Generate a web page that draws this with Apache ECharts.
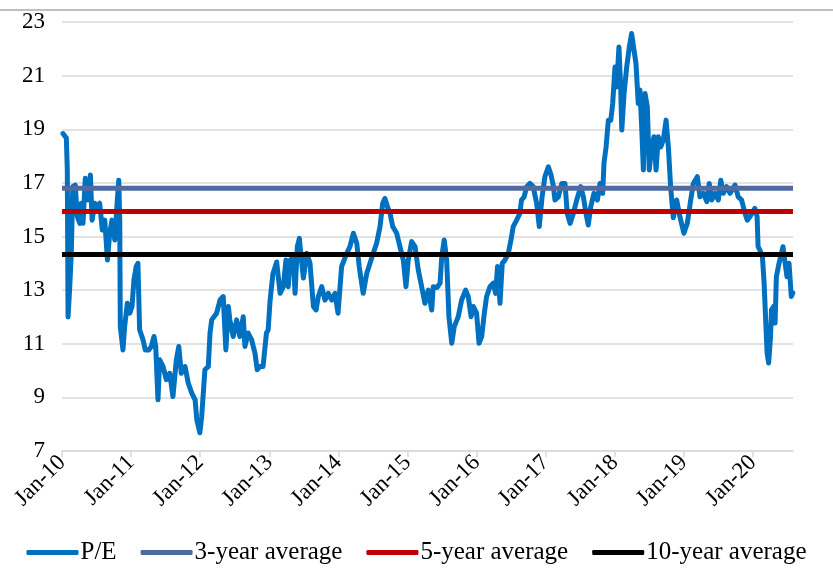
<!DOCTYPE html>
<html><head><meta charset="utf-8">
<script src="https://cdn.jsdelivr.net/npm/echarts@6/dist/echarts.min.js"></script>
<style>html,body{margin:0;padding:0;background:#fff}#c{width:833px;height:568px}</style>
</head><body><div id="c"></div>
<script>
const peDates = [
'2010-01-06','2010-01-24','2010-01-29','2010-02-02','2010-02-11','2010-02-19','2010-02-27','2010-03-12','2010-03-23','2010-04-05',
'2010-04-13','2010-04-22','2010-05-04','2010-05-18','2010-05-31','2010-06-09','2010-06-23','2010-07-07','2010-07-19','2010-08-02',
'2010-08-15','2010-08-29','2010-09-10','2010-09-22','2010-10-07','2010-10-19','2010-10-28','2010-11-02','2010-11-05','2010-11-19',
'2010-11-28','2010-12-12','2010-12-25','2011-01-06','2011-01-16','2011-01-28','2011-02-06','2011-02-15','2011-03-05','2011-03-17',
'2011-04-04','2011-04-18','2011-05-02','2011-05-11','2011-05-23','2011-06-01','2011-06-19','2011-07-06','2011-07-24','2011-08-10',
'2011-08-28','2011-09-10','2011-09-23','2011-10-13','2011-10-30','2011-11-17','2011-12-05','2011-12-14','2011-12-30','2012-01-09',
'2012-01-26','2012-02-13','2012-02-22','2012-03-02','2012-03-28','2012-04-15','2012-05-02','2012-05-16','2012-05-29','2012-06-06',
'2012-06-24','2012-07-12','2012-07-29','2012-08-16','2012-08-25','2012-09-11','2012-09-29','2012-10-17','2012-10-29','2012-11-12',
'2012-11-29','2012-12-17','2012-12-26','2013-01-05','2013-01-20','2013-02-09','2013-02-17','2013-02-27','2013-03-16','2013-03-30',
'2013-04-11','2013-04-21','2013-05-08','2013-05-17','2013-05-29','2013-06-09','2013-06-16','2013-06-30','2013-07-18','2013-08-04',
'2013-08-22','2013-09-05','2013-09-17','2013-10-05','2013-10-22','2013-11-09','2013-11-27','2013-12-14','2013-12-30','2014-01-18',
'2014-02-14','2014-03-03','2014-03-21','2014-04-08','2014-04-21','2014-05-12','2014-05-31','2014-06-17','2014-07-04','2014-07-22',
'2014-08-09','2014-08-23','2014-09-04','2014-09-17','2014-10-01','2014-10-15','2014-11-05','2014-11-22','2014-12-10','2014-12-24',
'2015-01-05','2015-01-23','2015-02-10','2015-02-27','2015-03-17','2015-04-03','2015-04-21','2015-05-09','2015-05-17','2015-06-06',
'2015-06-22','2015-07-01','2015-07-14','2015-07-27','2015-08-08','2015-08-23','2015-09-05','2015-09-26','2015-10-14','2015-11-04',
'2015-11-18','2015-12-03','2015-12-15','2016-01-01','2016-01-14','2016-01-28','2016-02-11','2016-02-23','2016-03-12','2016-03-29',
'2016-04-11','2016-04-21','2016-05-04','2016-05-16','2016-05-30','2016-06-17','2016-07-01','2016-07-13','2016-07-31','2016-08-17',
'2016-08-26','2016-09-09','2016-09-22','2016-10-09','2016-10-27','2016-11-14','2016-11-28','2016-12-13','2016-12-28','2017-01-15',
'2017-01-29','2017-02-10','2017-02-19','2017-03-09','2017-03-27','2017-04-13','2017-04-25','2017-05-10','2017-05-27','2017-06-14',
'2017-07-05','2017-07-19','2017-08-02','2017-08-14','2017-08-27','2017-09-13','2017-10-01','2017-10-15','2017-10-29','2017-11-05',
'2017-11-16','2017-11-28','2017-12-11','2017-12-21','2018-01-02','2018-01-11','2018-01-23','2018-02-01','2018-02-07','2018-02-19',
'2018-03-05','2018-03-19','2018-03-31','2018-04-09','2018-04-23','2018-05-05','2018-05-14','2018-05-23','2018-06-01','2018-06-10',
'2018-06-22','2018-07-02','2018-07-15','2018-07-27','2018-08-07','2018-08-19','2018-09-01','2018-09-14','2018-09-29','2018-10-11',
'2018-10-23','2018-11-06','2018-11-24','2018-12-11','2019-01-01','2019-01-19','2019-02-06','2019-02-20','2019-03-13','2019-03-27',
'2019-04-14','2019-05-02','2019-05-15','2019-05-28','2019-06-14','2019-07-02','2019-07-15','2019-07-28','2019-08-15','2019-09-02',
'2019-09-28','2019-10-15','2019-11-02','2019-11-20','2019-12-02','2019-12-16','2020-01-11','2020-01-23','2020-01-28','2020-02-06',
'2020-02-20','2020-02-29','2020-03-09','2020-03-16','2020-03-24','2020-04-03','2020-04-08','2020-04-20','2020-04-27','2020-05-04',
'2020-05-18','2020-06-08','2020-06-17','2020-06-29','2020-07-10','2020-07-22','2020-07-30'
];
const peValues = [
18.84,18.67,17.48,12.0,13.13,14.37,16.86,16.92,15.74,15.49,
16.24,15.49,17.17,16.36,17.29,15.61,16.24,16.11,16.24,15.24,
15.61,14.12,15.12,15.61,14.87,16.24,17.10,15.61,11.64,10.77,
11.64,12.51,12.14,12.39,13.38,13.88,14.0,11.52,11.15,10.77,
10.77,10.9,11.27,10.9,8.91,10.4,10.15,9.66,9.9,9.03,
10.4,10.9,9.9,10.15,9.53,9.17,8.91,8.17,7.68,8.29,
10.03,10.15,11.4,11.89,12.14,12.63,12.76,10.77,12.39,11.89,
11.27,11.89,11.27,12.01,10.9,11.4,11.15,10.65,10.03,10.15,
10.15,11.4,11.52,12.6,13.6,14.05,14.12,12.88,13.13,14.12,
13.13,14.12,14.25,12.88,14.62,14.93,14.37,13.45,14.37,14.0,
12.39,12.26,12.76,13.13,12.63,12.88,12.63,12.88,12.14,13.88,
14.37,14.62,15.12,14.75,13.88,12.88,13.63,14.0,14.37,14.75,
15.37,16.24,16.42,16.11,15.86,15.37,15.12,14.62,14.12,13.13,
14.12,14.81,14.62,13.75,13.13,12.51,13.0,12.26,13.13,13.1,
13.26,14.25,14.87,14.12,12.01,11.02,11.64,12.01,12.63,13.0,
12.76,12.01,12.39,12.14,11.02,11.27,12.14,12.76,13.13,13.26,
12.88,13.88,12.51,14.0,14.12,14.37,14.87,15.37,15.61,15.86,
16.36,16.48,16.85,16.98,16.86,16.24,15.37,16.48,17.23,17.6,
17.3,16.9,16.36,16.48,16.98,16.98,15.86,15.49,15.86,16.36,
16.86,16.48,15.86,15.43,16.11,16.61,16.36,16.98,16.61,17.73,
18.34,19.34,19.34,19.96,21.32,20.58,22.07,20.58,18.97,20.33,
21.32,22.07,22.57,22.6,21.45,19.96,20.46,19.09,17.48,20.33,
19.83,17.48,18.34,18.72,17.48,18.72,18.34,18.59,19.34,18.34,
16.86,15.7,16.36,15.74,15.12,15.49,16.36,16.98,17.23,16.48,
16.61,16.3,16.98,16.36,16.61,16.36,17.1,16.61,16.86,16.61,
16.92,16.48,16.36,15.86,15.61,15.74,16.05,15.74,14.62,14.5,
14.25,13.26,11.77,10.65,10.28,11.27,12.26,12.39,11.77,13.5,
14.0,14.62,14.12,13.5,14.0,12.76,12.9
];
const avgNames = ['3-year average', '5-year average', '10-year average'];
const avgValues = [16.8, 15.93, 14.33];
const axisStart = '2010-01-01';
const axisEnd = '2020-07-31';
const tickYears = [2010, 2011, 2012, 2013, 2014, 2015, 2016, 2017, 2018, 2019, 2020];
const yMin = 7, yMax = 23, yStep = 2;

function toDec(s) {
  const p = s.split('-').map(Number);
  const a = Date.UTC(p[0], 0, 1), b = Date.UTC(p[0] + 1, 0, 1);
  return p[0] + (Date.UTC(p[0], p[1] - 1, p[2]) - a) / (b - a);
}
const FONT = 'Liberation Serif, Times New Roman, serif';
const colors = ['#0070C0', '#4F6B9F', '#C00000', '#000000'];

const series = [{
  name: 'P/E', type: 'line', showSymbol: false, symbol: 'none',
  data: peDates.map((d, i) => [toDec(d), peValues[i]]),
  lineStyle: { color: colors[0], width: 5, join: 'round', cap: 'round' },
  itemStyle: { color: colors[0] }
}];
avgNames.forEach((n, i) => {
  series.push({
    name: n, type: 'line', showSymbol: false, symbol: 'none',
    data: [[toDec(axisStart), avgValues[i]], [toDec(axisEnd), avgValues[i]]],
    lineStyle: { color: colors[i + 1], width: 5 },
    itemStyle: { color: colors[i + 1] }
  });
});

const chart = echarts.init(document.getElementById('c'), null, { renderer: 'canvas' });
chart.setOption({
  animation: false,
  backgroundColor: '#fff',
  grid: { left: 62, right: 40, top: 22, bottom: 117 },
  graphic: [{
    type: 'line', shape: { x1: 0, y1: 10, x2: 833, y2: 10 },
    style: { stroke: '#bfbfbf', lineWidth: 2 }, silent: true
  }],
  legend: {
    data: ['P/E'].concat(avgNames),
    left: 'center', top: 535,
    icon: 'roundRect', itemWidth: 52, itemHeight: 5, itemGap: 24,
    textStyle: { fontFamily: FONT, fontSize: 25, color: '#000', padding: [0, 0, 0, -3] }
  },
  xAxis: {
    type: 'value', min: toDec(axisStart), max: toDec(axisEnd), interval: 1,
    axisLine: { show: true, lineStyle: { color: '#d9d9d9', width: 1.5 } },
    axisTick: { show: true, customValues: tickYears, length: 6, lineStyle: { color: '#d9d9d9', width: 1.5 } },
    axisLabel: {
      customValues: tickYears, rotate: 45, margin: 8,
      fontFamily: FONT, fontSize: 23, color: '#000',
      formatter: v => Math.abs(v - Math.round(v)) < 1e-6 ? 'Jan-' + String(Math.round(v)).slice(2) : ''
    },
    splitLine: { show: false }
  },
  yAxis: {
    type: 'value', min: yMin, max: yMax, interval: yStep,
    axisLine: { show: false }, axisTick: { show: false },
    axisLabel: { fontFamily: FONT, fontSize: 23, color: '#000', margin: 17 },
    splitLine: { lineStyle: { color: '#d9d9d9', width: 1.5 } }
  },
  series: series
});
</script></body></html>
